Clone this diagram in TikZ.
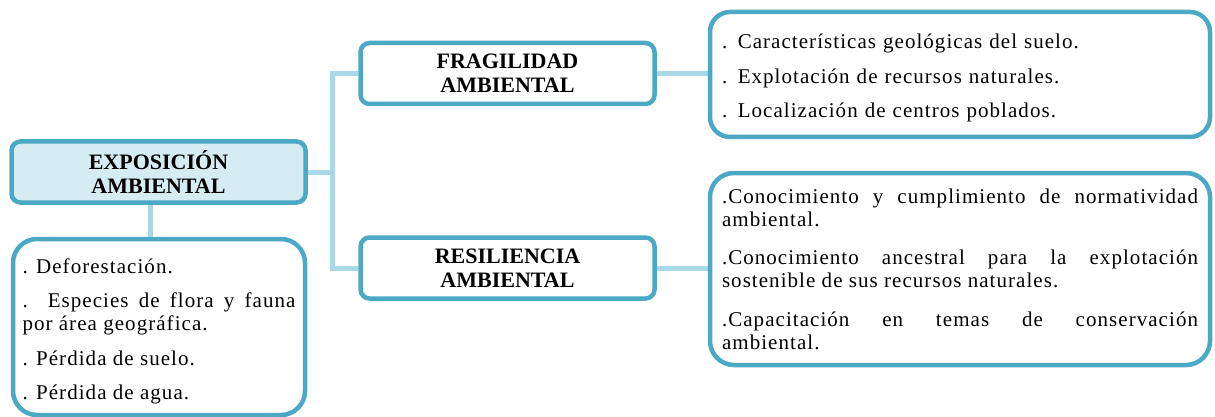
\documentclass[tikz,border=0pt]{standalone}
\usepackage{fontspec}
\setmainfont{Liberation Serif}[LetterSpace=5]
\newfontfamily\headfont{Liberation Serif}
\usetikzlibrary{backgrounds}

\definecolor{edgeblue}{HTML}{4BA9C6}
\definecolor{linkblue}{HTML}{A9D9E6}
\definecolor{headfill}{HTML}{D6ECF3}

% paragraph settings for the list texts (argument: gap between items)
\newcommand\listsetup[1]{\setlength\parskip{#1}\setlength\parindent{0pt}\hyphenpenalty=10000 \exhyphenpenalty=10000\relax}

\tikzset{
  box/.style={draw=edgeblue, line width=4.5pt, fill=white, inner sep=0pt},
  headbox/.style={box, rounded corners=9pt, minimum width=294pt, minimum height=61pt,
    align=center, font=\headfont\bfseries\fontsize{22}{24}\selectfont},
  listbox/.style={box, rounded corners=24pt},
  listtext/.style={inner sep=0pt, font=\fontsize{21}{23}\selectfont},
  link/.style={draw=linkblue, line width=5pt}
}

\begin{document}
\begin{tikzpicture}[x=1pt, y=-1pt]
  \useasboundingbox (0,0) rectangle (1215,417);

  % central topic and its list
  \node[headbox, fill=headfill] (expo) at (158.5,172) {EXPOSICIÓN\\AMBIENTAL};
  \node[listbox, minimum width=292pt, minimum height=176pt] (expolist) at (159,327) {};
  \node[listtext, text width=273pt, align=justify] (expotext) at ([yshift=-4.5pt]expolist.center)
    {\listsetup{11.5pt}%
     . Deforestación.\par
     . Especies de flora y fauna\linebreak por área geográfica.\par
     . Pérdida de suelo.\par
     . Pérdida de agua.};

  % first branch
  \node[headbox] (frag) at (507.5,73.5) {FRAGILIDAD\\AMBIENTAL};
  \node[listbox, rounded corners=20pt, minimum width=500pt, minimum height=125pt] (fraglist) at (960,74.5) {};
  \node[listtext, text width=476pt, align=left] (fragtext) at ([yshift=-3.5pt]fraglist.center)
    {\listsetup{11.5pt}%
     . Características geológicas del suelo.\par
     . Explotación de recursos naturales.\par
     . Localización de centros poblados.};

  % second branch
  \node[headbox] (res) at (507.5,268) {RESILIENCIA\\AMBIENTAL};
  \node[listbox, minimum width=500pt, minimum height=192pt] (reslist) at (960,269) {};
  \node[listtext, text width=476pt, align=justify] (restext) at (reslist.center)
    {\listsetup{15.5pt}%
     .Conocimiento y cumplimiento de normatividad\linebreak ambiental.\par
     .Conocimiento ancestral para la explotación\linebreak sostenible de sus recursos naturales.\par
     .Capacitación en temas de conservación\linebreak ambiental.};

  % connectors behind the boxes
  \begin{scope}[on background layer]
    \coordinate (trunk) at (332,172);
    \draw[link] (expo.east) -- (trunk);
    \draw[link] (frag.west) -| (trunk) |- (res.west);
    \draw[link] (frag.east) -- (fraglist.west |- frag.east);
    \draw[link] (res.east) -- (reslist.west |- res.east);
    \draw[link] ([xshift=-8.5pt]expo.south) -- ([xshift=-8.5pt]expo.south |- expolist.north);
  \end{scope}
\end{tikzpicture}
\end{document}
